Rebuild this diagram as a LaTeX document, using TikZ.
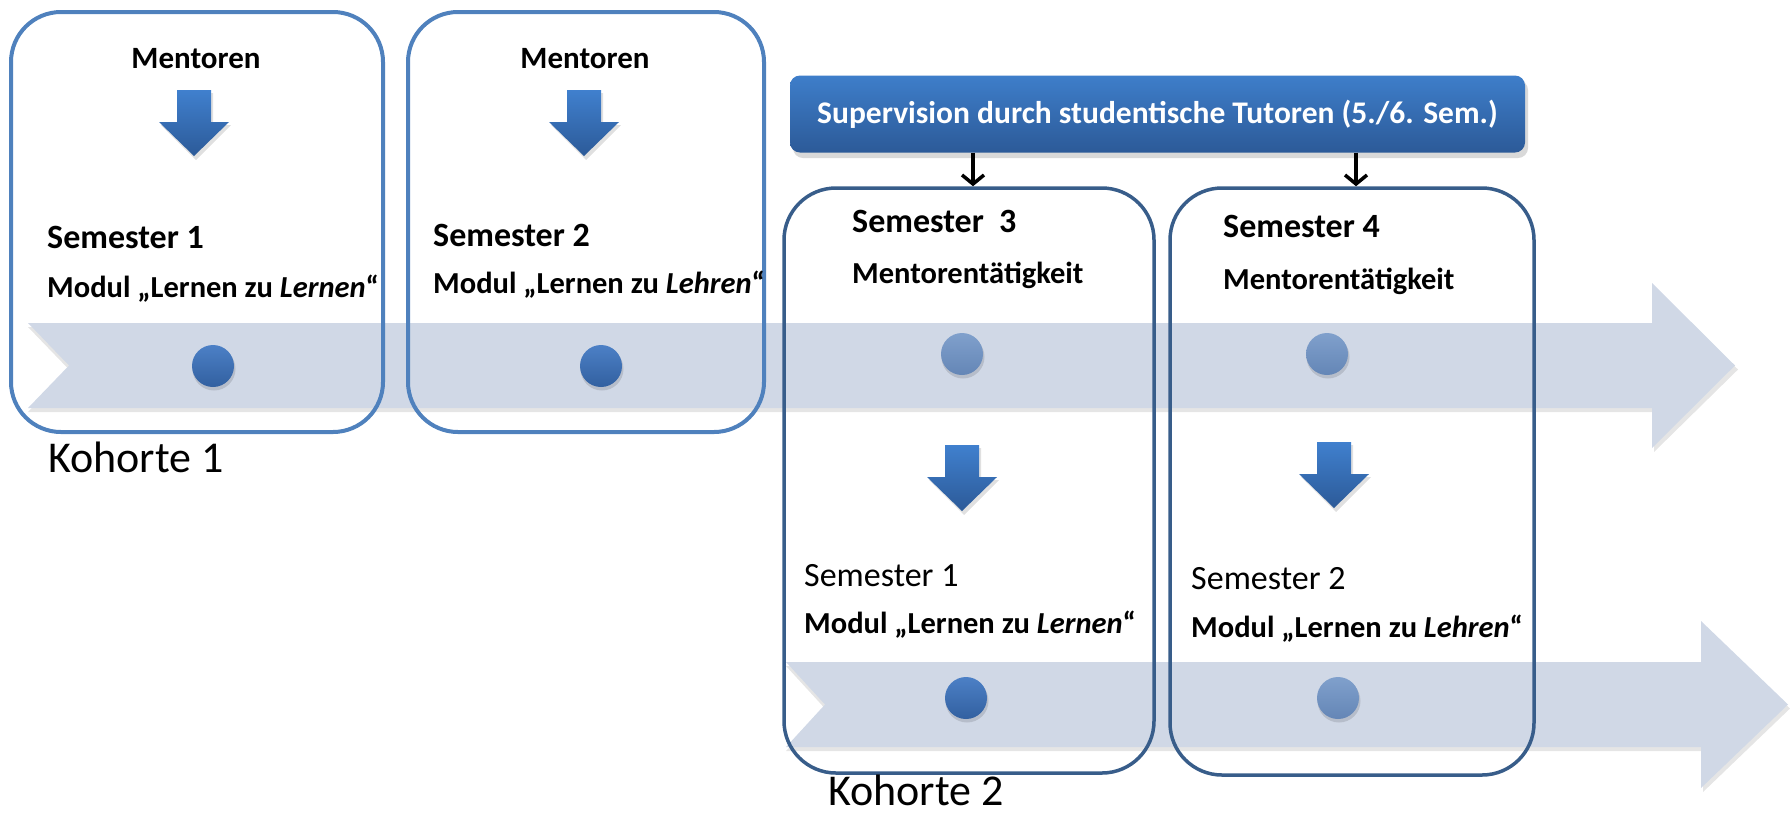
\documentclass[tikz,border=0pt]{standalone}
\usepackage{fontspec}
\setmainfont{Carlito}
\usetikzlibrary{arrows.meta}
\definecolor{bandc}{RGB}{208,216,230}
\definecolor{boxA}{RGB}{79,129,189}
\definecolor{boxB}{RGB}{56,93,138}
\definecolor{arrTop}{RGB}{64,128,206}
\definecolor{arrBot}{RGB}{44,90,152}
\definecolor{supTop}{RGB}{62,126,202}
\definecolor{supBot}{RGB}{44,90,152}
\definecolor{dkTop}{RGB}{76,128,198}
\definecolor{dkBot}{RGB}{50,96,160}
\definecolor{ltTop}{RGB}{128,160,204}
\definecolor{ltBot}{RGB}{100,134,182}
\tikzset{
  boxa/.style={draw=boxA, line width=4pt, rounded corners=50pt, minimum width=#1, inner sep=0pt},
  boxb/.style={draw=boxB, line width=3.5pt, rounded corners=52pt, minimum width=#1, inner sep=0pt},
  dotdark/.style={circle, minimum size=42pt, inner sep=0pt, top color=dkTop, bottom color=dkBot},
  dotlight/.style={circle, minimum size=42pt, inner sep=0pt, top color=ltTop, bottom color=ltBot},
  mentor/.style={font=\bfseries\fontsize{31}{36}\selectfont, anchor=base, inner sep=0pt},
  sembold/.style={font=\bfseries\fontsize{34}{39}\selectfont, anchor=base west, inner sep=0pt},
  modul/.style={font=\bfseries\fontsize{30.5}{35}\selectfont, anchor=base west, inner sep=0pt},
  semreg/.style={font=\fontsize{34}{39}\selectfont, anchor=base west, inner sep=0pt},
  kohorte/.style={font=\fontsize{44}{50}\selectfont, anchor=base west, inner sep=0pt},
  blackarr/.style={line width=3.5pt, -{Straight Barb[length=9pt,width=22pt,line width=3.5pt]}},
  shadowfill/.style={fill=black, opacity=0.12},
}
\newcommand\bluedown[2]{%
  \fill[shadowfill] (#1-17+2,#2+3) -- (#1+17+2,#2+3) -- (#1+17+2,#2+32+3) -- (#1+35+2,#2+32+3) -- (#1+2,#2+66+4) -- (#1-35+2,#2+32+3) -- (#1-17+2,#2+32+3) -- cycle;
  \shade[top color=arrTop, bottom color=arrBot] (#1-17,#2) -- (#1+17,#2) -- (#1+17,#2+32) -- (#1+35,#2+32) -- (#1,#2+66) -- (#1-35,#2+32) -- (#1-17,#2+32) -- cycle;}
\newcommand\dotshadow[2]{\fill[black, opacity=0.12] (#1+1,#2+3) circle[radius=21.5];}
\begin{document}
\begin{tikzpicture}[x=1pt,y=-1pt]
\useasboundingbox (0,0) rectangle (1790,815);
% timeline arrows (shadow + body)
\fill[black, opacity=0.10] (28,327) -- (1654,327) -- (1654,287) -- (1738,369.5) -- (1654,452) -- (1654,412) -- (28,412) -- (69,369.5) -- cycle;
\fill[bandc] (28,323) -- (1652,323) -- (1652,283) -- (1735,365.5) -- (1652,448) -- (1652,408) -- (28,408) -- (69,365.5) -- cycle;
\fill[black, opacity=0.10] (786,666) -- (1703,666) -- (1703,625) -- (1790,708.5) -- (1703,792) -- (1703,751) -- (786,751) -- (825,708.5) -- cycle;
\fill[bandc] (786,662) -- (1701,662) -- (1701,621) -- (1788,704.5) -- (1701,788) -- (1701,747) -- (786,747) -- (825,704.5) -- cycle;
% dots
\dotshadow{213}{366}\dotshadow{601}{366}\dotshadow{962}{354}\dotshadow{1327}{354}\dotshadow{966}{698}\dotshadow{1338}{698}
\node[dotdark] (d1) at (213,366) {};
\node[dotdark] (d2) at (601,366) {};
\node[dotlight] (d3) at (962,354) {};
\node[dotlight] (d4) at (1327,354) {};
\node[dotdark] (d5) at (966,698) {};
\node[dotlight] (d6) at (1338,698) {};
% boxes
\node[boxa=372pt, minimum height=420pt] (box1) at (197,222) {};
\node[boxa=356pt, minimum height=420pt] (box2) at (586,222) {};
\node[boxb=370pt, minimum height=585pt] (box3) at (969,480.5) {};
\node[boxb=364pt, minimum height=587pt] (box4) at (1352,481.5) {};
% supervision box
\fill[black, opacity=0.15, rounded corners=10pt] (793,80) rectangle (1528,158);
\node[rounded corners=10pt, minimum width=735pt, minimum height=77pt, top color=supTop, bottom color=supBot, text=white, font=\bfseries\fontsize{31.5}{36}\selectfont, inner sep=0pt] (sup) at (1157.5,114) {Supervision durch studentische Tutoren (5./6. Sem.)};
\draw[blackarr] ([xshift=4pt]sup.south -| box3.north) -- ([xshift=4pt]box3.north);
\draw[blackarr] ([xshift=4pt]sup.south -| box4.north) -- ([xshift=4pt]box4.north);
% blue arrows
\bluedown{194}{90}
\bluedown{584}{90}
\bluedown{962}{445}
\bluedown{1334}{442}
% texts cohort 1
\node[mentor] (m1) at (196,68) {Mentoren};
\node[mentor] (m2) at (585,68) {Mentoren};
\node[sembold] (s1) at (47,248) {Semester 1};
\node[modul] (mod1) at (47,297) {Modul „Lernen zu \textit{Lernen}“};
\node[sembold] (s2) at (433,246) {Semester 2};
\node[modul] (mod2) at (433,293) {Modul „Lernen zu \textit{Lehren}“};
\node[kohorte] (k1) at (48,472) {Kohorte 1};
% texts boxes 3/4
\node[sembold] (s3) at (852,232) {Semester\ \ 3};
\node[modul] (mt3) at (852,283) {Mentorentätigkeit};
\node[sembold] (s4) at (1223,237) {Semester 4};
\node[modul] (mt4) at (1223,289) {Mentorentätigkeit};
% texts cohort 2
\node[semreg] (s21) at (804,586) {Semester 1};
\node[modul] (mod21) at (804,633) {Modul „Lernen zu \textit{Lernen}“};
\node[semreg] (s22) at (1191,589) {Semester 2};
\node[modul] (mod22) at (1191,637) {Modul „Lernen zu \textit{Lehren}“};
\node[kohorte] (k2) at (828,805) {Kohorte 2};
\end{tikzpicture}
\end{document}
